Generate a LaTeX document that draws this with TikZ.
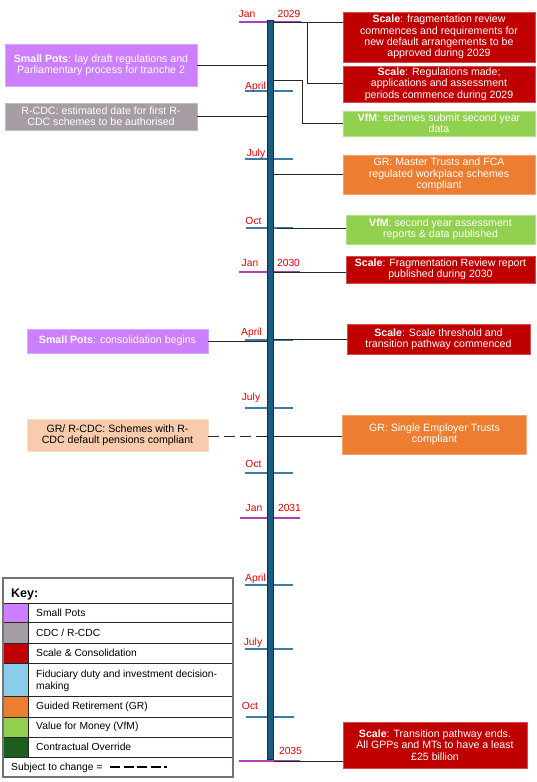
\documentclass[tikz,border=0pt]{standalone}
\usepackage{fontspec}
\setmainfont{Liberation Sans}
\definecolor{spc}{HTML}{CC80FF}
\definecolor{cdcc}{HTML}{A69CA4}
\definecolor{scalec}{HTML}{C00000}
\definecolor{fidc}{HTML}{8ACCEA}
\definecolor{grc}{HTML}{ED7D31}
\definecolor{vfmc}{HTML}{92D050}
\definecolor{coc}{HTML}{1B5E20}
\definecolor{peachc}{HTML}{F8CBAD}
\definecolor{barc}{HTML}{1A5C80}
\definecolor{bardk}{HTML}{0D3048}
\definecolor{tickc}{HTML}{3A7CA5}
\definecolor{magc}{HTML}{B040B0}
\definecolor{labc}{HTML}{E00000}
\newcommand\boxfont{\fontsize{10.6}{11.4}\selectfont}
\newcommand\labfont{\fontsize{10.3}{11}\selectfont}
\newcommand\keyfont{\fontsize{10.3}{12}\selectfont}
\begin{document}
\begin{tikzpicture}[x=1pt,y=-1pt,
  evt/.style={inner sep=0pt, align=center, text=white, font=\boxfont, fill=#1, draw=#1!70!white, line width=0.6pt},
  conn/.style={draw=black!85, line width=0.9pt},
  tickm/.style={draw=tickc, line width=1.1pt},
  tickj/.style={draw=magc, line width=1.3pt},
  lab/.style={text=labc, font=\labfont, inner sep=0pt, anchor=base},
  keytxt/.style={font=\keyfont, anchor=west, inner sep=0pt, align=left},
  keyrule/.style={draw=black!85, line width=0.8pt}
]
\useasboundingbox (0,0) rectangle (537,782);
\fill[white] (0,0) rectangle (537,782);

% month ticks
\draw[tickj] (239,22) -- (301,22);
\draw[tickm] (245,91) -- (293,91);
\draw[tickm] (245,159) -- (293,159);
\draw[tickm] (246,228) -- (293,228);
\draw[tickj] (239,272) -- (300,272);
\draw[tickm] (245,340) -- (293,340);
\draw[tickm] (245,408) -- (293,408);
\draw[tickm] (245,473) -- (293,473);
\draw[tickj] (240,518) -- (300,518);
\draw[tickm] (245,585) -- (293,585);
\draw[tickm] (245,649) -- (293,649);
\draw[tickm] (246,717) -- (294,717);
\draw[tickj] (239,761) -- (300,761);

% timeline bar
\node[fill=barc, draw=bardk, line width=0.8pt, minimum width=6.5, minimum height=739, inner sep=0pt] (bar) at (270.5,390) {};

% labels
\node[lab] (lj29) at (247,17.8) {Jan};
\node[lab] (ly29) at (289,17.8) {2029};
\node[lab] (la29) at (255.5,89.8) {April};
\node[lab] (ljl29) at (256,156.8) {July};
\node[lab] (lo29) at (253.5,224.8) {Oct};
\node[lab] (lj30) at (250,266.8) {Jan};
\node[lab] (ly30) at (288.5,266.8) {2030};
\node[lab] (la30) at (251.5,335.8) {April};
\node[lab] (ljl30) at (251,400.8) {July};
\node[lab] (lo30) at (253.5,467.8) {Oct};
\node[lab] (lj31) at (254,511.8) {Jan};
\node[lab] (ly31) at (289.5,511.8) {2031};
\node[lab] (la31) at (255.5,581.8) {April};
\node[lab] (ljl31) at (253,645.8) {July};
\node[lab] (lo31) at (250,709.8) {Oct};
\node[lab] (ly35) at (290.5,754.8) {2035};

% event boxes
\node[evt=scalec, minimum width=192, minimum height=50] (b1) at (439,37)
  {\textbf{Scale}: fragmentation review\\commences and requirements for\\new default arrangements to be\\approved during 2029};
\node[evt=scalec, minimum width=192, minimum height=36] (b2) at (439,84)
  {\textbf{Scale}: Regulations made;\\applications and assessment\\periods commence during 2029};
\node[evt=vfmc, minimum width=192, minimum height=25] (b3) at (439,123.5)
  {\textbf{VfM}: schemes submit second year\\data};
\node[evt=spc, minimum width=192, minimum height=42] (b4) at (101,65)
  {\textbf{Small Pots}: lay draft regulations and\\Parliamentary process for tranche 2};
\node[evt=cdcc, minimum width=192, minimum height=27] (b5) at (101,116.5)
  {R-CDC: estimated date for first R-\\CDC schemes to be authorised};
\node[evt=grc, minimum width=192, minimum height=39] (b6) at (439,174.5)
  {GR: Master Trusts and FCA\\regulated workplace schemes\\compliant};
\node[evt=vfmc, minimum width=189, minimum height=29] (b7) at (440.5,229.5)
  {\textbf{VfM}: second year assessment\\reports \& data published};
\node[evt=scalec, minimum width=189, minimum height=27] (b8) at (440.5,269.5)
  {\textbf{Scale}: Fragmentation Review report\\published during 2030};
\node[evt=spc, minimum width=181, minimum height=24] (b9) at (117.5,341)
  {\textbf{Small Pots}: consolidation begins};
\node[evt=scalec, minimum width=183, minimum height=30] (b10) at (438.5,339.5)
  {\textbf{Scale}: Scale threshold and\\transition pathway commenced};
\node[evt=peachc, text=black, minimum width=181, minimum height=32] (b11) at (117.5,435.5)
  {GR/ R-CDC: Schemes with R-\\CDC default pensions compliant};
\node[evt=grc, minimum width=184, minimum height=39] (b12) at (434.5,434.5)
  {GR: Single Employer Trusts\\compliant};
\node[evt=scalec, minimum width=184, minimum height=46] (b13) at (435,745)
  {\textbf{Scale}: Transition pathway ends.\\All GPPs and MTs to have a least\\£25 billion};

% connectors
\coordinate (j1) at (307,22);
\coordinate (j2) at (302,123);
\coordinate (j3) at (277,228);
\draw[conn] (bar.east |- 0,22) -- (b1.west |- 0,22);
\draw[conn] (j1) |- (b2.west |- 0,83);
\draw[conn] (bar.east |- 0,80) -| (j2) -- (b3.west |- j2);
\draw[conn] (b4.east) -- (b4.east -| bar.west);
\draw[conn] (b5.east) -- (b5.east -| bar.west);
\draw[conn] (bar.east |- b6.west) -- (b6.west);
\draw[conn] (j3) -- (b7.west |- j3);
\draw[conn] (bar.east |- 0,272) -- (b8.west |- 0,272);
\draw[conn] (b9.east) -- (b9.east -| bar.west);
\draw[conn] (bar.east |- b10.west) -- (b10.west);
\draw[conn, dash pattern=on 11pt off 5pt] (b11.east |- 0,436) -- (bar.west |- 0,436);
\draw[conn] (bar.east |- 0,436) -- (b12.west |- 0,436);
\draw[conn] (bar.east |- 0,761) -- (b13.west |- 0,761);

% key
\fill[spc] (3,603) rectangle (28,622);
\fill[cdcc] (3,622) rectangle (28,643);
\fill[scalec] (3,643) rectangle (28,663);
\fill[fidc] (3,663) rectangle (28,696);
\fill[grc] (3,696) rectangle (28,717);
\fill[vfmc] (3,717) rectangle (28,737);
\fill[coc] (3,737) rectangle (28,757);
\foreach \yy in {603,622,643,663,696,717,737,757} {
  \draw[keyrule] (3,\yy) -- (233,\yy);
}
\draw[keyrule] (28,603) -- (28,757);
\draw[draw=black!55, line width=1.3pt] (3,578) rectangle (233,777);
\node[font=\bfseries\fontsize{12.5}{14}\selectfont, anchor=base west, inner sep=0pt] (kh) at (11,597.5) {Key:};
\node[keytxt] (k1) at (36,613) {Small Pots};
\node[keytxt] (k2) at (36,633) {CDC / R-CDC};
\node[keytxt] (k3) at (36,653) {Scale \& Consolidation};
\node[keytxt] (k4) at (36,681) {Fiduciary duty and investment decision-\\making};
\node[keytxt] (k5) at (36,707) {Guided Retirement (GR)};
\node[keytxt] (k6) at (36,727) {Value for Money (VfM)};
\node[keytxt] (k7) at (36,747) {Contractual Override};
\node[keytxt] (k8) at (11,768) {Subject to change =};
\coordinate (kd1) at (110,767);
\coordinate (kd2) at (167,767);
\draw[black, line width=1.4pt, dash pattern=on 10pt off 3.5pt] (kd1) -- (kd2);
\end{tikzpicture}
\end{document}
